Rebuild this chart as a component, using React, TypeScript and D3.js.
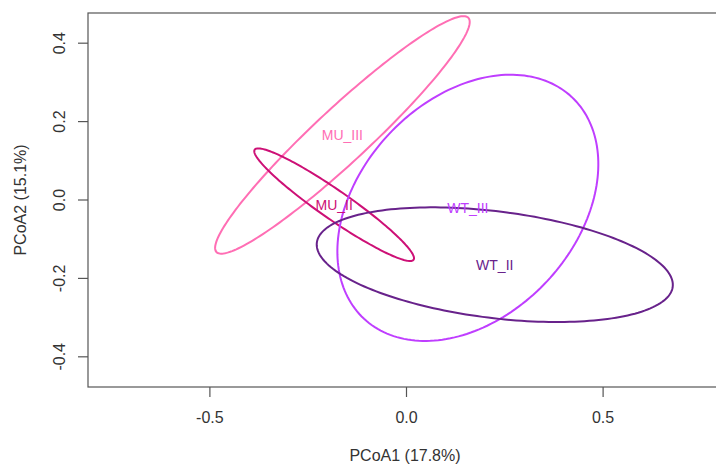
import React from "react";
import * as d3 from "d3";

const groups = ["MU_III", "MU_II", "WT_III", "WT_II"];
const centerX = [-0.163, -0.184, 0.156, 0.2245];
const centerY = [0.166, -0.012, -0.02, -0.165];
const semiMajor = [0.438, 0.246, 0.387, 0.456];
const semiMinor = [0.069, 0.037, 0.275, 0.136];
const angleDeg = [43, -34.8, 47, -7.1];
const colors = ["#FF6EB4", "#CD1076", "#BF3EFF", "#68228B"];

const xTicks = [-0.5, 0, 0.5];
const yTicks = [-0.4, -0.2, 0, 0.2, 0.4];
const xTitle = "PCoA1 (17.8%)";
const yTitle = "PCoA2 (15.1%)";

const W = 716;
const H = 466;
const left = 88;
const top = 13;
const bottom = 387;
const right = 725;

export default function App() {
  const x = d3.scaleLinear().domain([-0.81, 0.81]).range([left, right]);
  const y = d3.scaleLinear().domain([-0.477, 0.477]).range([bottom, top]);
  const line = d3
    .line<[number, number]>()
    .x((d) => x(d[0]))
    .y((d) => y(d[1]))
    .curve(d3.curveLinearClosed);

  const ellipse = (i: number): [number, number][] => {
    const th = (angleDeg[i] * Math.PI) / 180;
    return d3.range(0, 200).map((k) => {
      const t = (k / 200) * 2 * Math.PI;
      const u = semiMajor[i] * Math.cos(t);
      const v = semiMinor[i] * Math.sin(t);
      return [
        centerX[i] + u * Math.cos(th) - v * Math.sin(th),
        centerY[i] + u * Math.sin(th) + v * Math.cos(th),
      ];
    });
  };

  const fmt = (v: number) => (v === 0 ? "0.0" : v.toFixed(1));
  const font = "'Liberation Sans', Arial, sans-serif";

  return (
    <svg
      width={W}
      height={H}
      style={{ position: "absolute", left: 0, top: 0, background: "#fff" }}
      fontFamily={font}
    >
      <defs>
        <clipPath id="plotclip">
          <rect x={left} y={top} width={right - left} height={bottom - top} />
        </clipPath>
      </defs>
      <rect x={0} y={0} width={W} height={H} fill="#fff" />
      <g clipPath="url(#plotclip)">
        {groups.map((g, i) => (
          <path
            key={g}
            d={line(ellipse(i)) || ""}
            fill="none"
            stroke={colors[i]}
            strokeWidth={2}
          />
        ))}
        {groups.map((g, i) => (
          <text
            key={g + "l"}
            x={x(centerX[i])}
            y={y(centerY[i])}
            dy="0.36em"
            textAnchor="middle"
            fontSize={14}
            fill={colors[i]}
          >
            {g}
          </text>
        ))}
      </g>
      <rect
        x={left}
        y={top}
        width={right - left}
        height={bottom - top}
        fill="none"
        stroke="#555"
        strokeWidth={1.2}
      />
      {xTicks.map((t) => (
        <g key={"x" + t}>
          <line x1={x(t)} x2={x(t)} y1={bottom} y2={bottom + 10} stroke="#555" strokeWidth={1.2} />
          <text x={x(t)} y={423} textAnchor="middle" fontSize={16} fill="#333">
            {fmt(t)}
          </text>
        </g>
      ))}
      {yTicks.map((t) => (
        <g key={"y" + t}>
          <line x1={left - 10} x2={left} y1={y(t)} y2={y(t)} stroke="#555" strokeWidth={1.2} />
          <text
            transform={`translate(65,${y(t)}) rotate(-90)`}
            textAnchor="middle"
            fontSize={16}
            fill="#333"
          >
            {fmt(t)}
          </text>
        </g>
      ))}
      <text x={405} y={461} textAnchor="middle" fontSize={16} fill="#333">
        {xTitle}
      </text>
      <text
        transform={`translate(26,${y(0)}) rotate(-90)`}
        textAnchor="middle"
        fontSize={16}
        fill="#333"
      >
        {yTitle}
      </text>
    </svg>
  );
}
